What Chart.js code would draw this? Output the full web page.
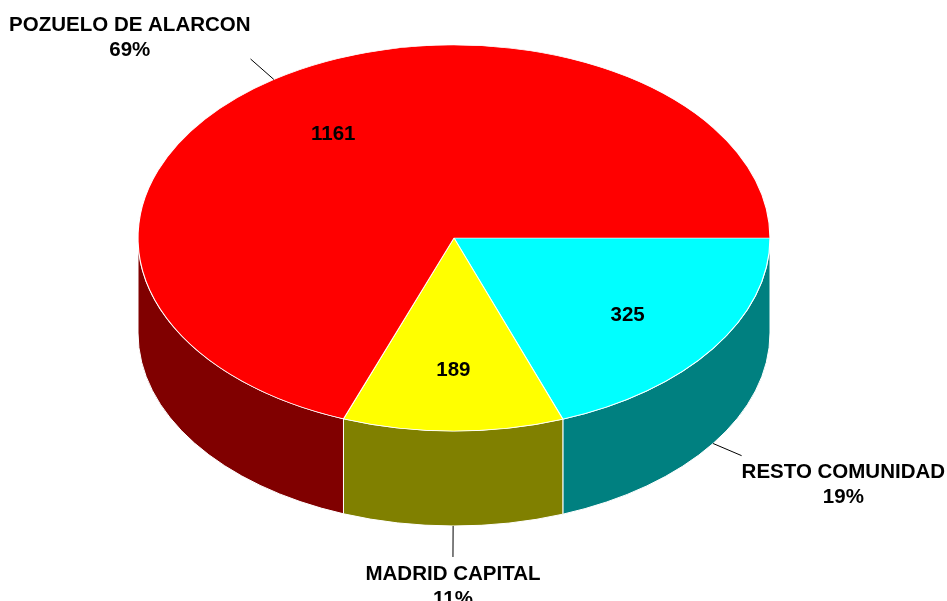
<!DOCTYPE html>
<html>
<head>
<meta charset="utf-8">
<script src="https://cdn.jsdelivr.net/npm/chart.js@4/dist/chart.umd.min.js"></script>
<style>
  html, body { margin: 0; padding: 0; background: #fff; }
  canvas { display: block; }
</style>
</head>
<body>
<canvas id="myChart" width="947" height="601"></canvas>
<script>
// data (order goes clockwise from 3 o'clock)
const labels = ["RESTO COMUNIDAD", "MADRID CAPITAL", "POZUELO DE ALARCON"];
const values = [325, 189, 1161];
const percents = ["19%", "11%", "69%"];
const topColors = ["#00FFFF", "#FFFF00", "#FF0000"];
const sideColors = ["#008080", "#808000", "#800000"];

// where the tilted pie sits on the page
const CX = 454, CY = 238, RX = 316, RY = 193, DEPTH = 95;
const FONT = "bold 20.5px 'Liberation Sans', Arial, sans-serif";

// front part of an angle range (lower half of the ellipse)
function frontParts(a1, a2) {
    const out = [];
    for (const [lo, hi] of [[0, Math.PI], [2 * Math.PI, 3 * Math.PI]]) {
        const s = Math.max(a1, lo), e = Math.min(a2, hi);
        if (e > s) out.push([s, e]);
    }
    return out;
}

const tilt3d = {
    id: "tilt3d",
    beforeDatasetsDraw(chart) {
        const ctx = chart.ctx;
        const arcs = chart.getDatasetMeta(0).data;
        // side walls
        arcs.forEach((arc, i) => {
            frontParts(arc.startAngle, arc.endAngle).forEach(([s, e]) => {
                ctx.beginPath();
                ctx.ellipse(CX, CY, RX, RY, 0, s, e);
                ctx.lineTo(CX + RX * Math.cos(e), CY + DEPTH + RY * Math.sin(e));
                ctx.ellipse(CX, CY + DEPTH, RX, RY, 0, e, s, true);
                ctx.closePath();
                ctx.fillStyle = sideColors[i];
                ctx.fill();
                ctx.strokeStyle = "#fff";
                ctx.lineWidth = 1;
                ctx.stroke();
            });
        });
        // squash the library's pie into the top face
        const a = arcs[0];
        ctx.save();
        ctx.translate(CX, CY);
        ctx.scale(RX / a.outerRadius, RY / a.outerRadius);
        ctx.translate(-a.x, -a.y);
    },
    afterDatasetsDraw(chart) {
        const ctx = chart.ctx;
        ctx.restore();
        const arcs = chart.getDatasetMeta(0).data;
        ctx.font = FONT;
        ctx.fillStyle = "#000";
        ctx.strokeStyle = "#000";
        ctx.lineWidth = 1;
        arcs.forEach((arc, i) => {
            const mid = (arc.startAngle + arc.endAngle) / 2;
            const c = Math.cos(mid), s = Math.sin(mid);
            // value inside the slice
            ctx.textAlign = "center";
            ctx.textBaseline = "middle";
            ctx.fillText(String(values[i]), CX + RX * c * 0.67, CY + RY * s * 0.67 + 3);
            // leader line
            const front = s > 0;
            const px = CX + RX * c, py = CY + RY * s + (front ? DEPTH : 0);
            const dx = RX * c, dy = RY * s, len = Math.hypot(dx, dy);
            const ex = px + dx / len * 31, ey = py + dy / len * 31;
            ctx.beginPath();
            ctx.moveTo(px, py);
            ctx.lineTo(ex, ey);
            ctx.stroke();
            // outer label
            const lines = [labels[i], percents[i]];
            const w = Math.max(...lines.map(t => ctx.measureText(t).width));
            let left, top;
            if (dx < -5) { left = ex - w; top = ey - 45; }
            else if (dx > 5) { left = ex; top = ey + 6; }
            else { left = ex - w / 2; top = ey + 6; }
            lines.forEach((t, k) => ctx.fillText(t, left + w / 2, top + 11 + k * 25));
        });
    }
};

new Chart(document.getElementById("myChart"), {
    type: "pie",
    data: {
        labels: labels,
        datasets: [
            {
                data: values,
                backgroundColor: topColors,
                borderColor: "#ffffff",
                borderWidth: 1,
                clip: false,
            },
        ],
    },
    options: {
        responsive: false,
        animation: false,
        events: [],
        rotation: 90,
        layout: { padding: 20 },
        plugins: {
            legend: { display: false },
            tooltip: { enabled: false },
        },
    },
    plugins: [tilt3d],
});
</script>
</body>
</html>
